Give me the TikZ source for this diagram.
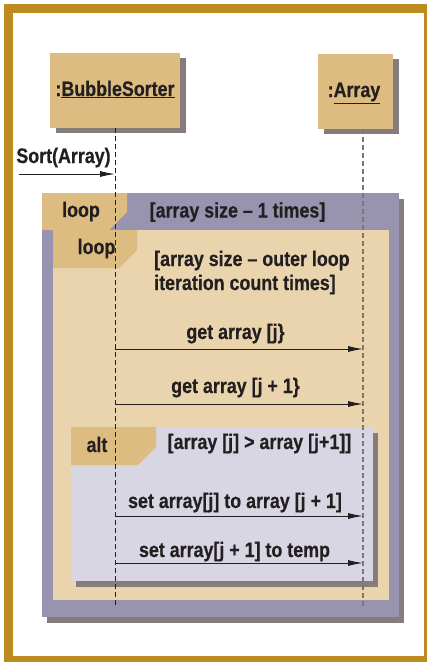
\documentclass[tikz,border=0pt]{standalone}
\usepackage{fontspec}
\setmainfont{Liberation Sans}[FakeStretch=0.85, BoldFeatures={FakeBold=0.5}]
\usetikzlibrary{arrows.meta,shadows}
\definecolor{gold}{HTML}{BD8B1F}
\definecolor{tandark}{HTML}{DDBC82}
\definecolor{tanlight}{HTML}{E9D4AE}
\definecolor{purp}{HTML}{9893AF}
\definecolor{lav}{HTML}{D8D6E3}
\definecolor{shadowc}{HTML}{857D7A}
\definecolor{ink}{HTML}{231F20}
\definecolor{lifegray}{HTML}{7E7673}
\begin{document}
\begin{tikzpicture}[x=1pt,y=-1pt,
  font=\fontsize{21}{24}\selectfont\bfseries,
  txt/.style={text=ink, inner sep=0pt, anchor=base},
  objbox/.style={fill=tandark, inner sep=0pt, outer sep=0pt, drop shadow={shadow xshift=6pt, shadow yshift=-5pt, fill=shadowc, opacity=1}},
  framebox/.style={inner sep=0pt, outer sep=0pt},
  msg/.style={draw=ink, line width=0.9pt, -{Latex[length=15pt,width=6pt]}},
  lifeline/.style={line width=1pt, dash pattern=on 5pt off 3pt}]
\clip (0,0) rectangle (427,662);
\fill[white] (0,0) rectangle (427,662);
\draw[gold, line width=9pt] (8.5,8.5) rectangle (428.5,660.5);

% object boxes
\node[objbox, minimum width=130pt, minimum height=75pt] (bs) at (115,90.5) {};
\node[objbox, minimum width=75pt, minimum height=75pt] (ar) at (355.5,91.5) {};
\node[txt] (bst) at (115,96) {:\underline{BubbleSorter}};
\node[txt] (art) at (354,97) {:\underline{Array}};

% outer loop frame
\node[framebox, fill=purp, minimum width=357pt, minimum height=424pt,
  drop shadow={shadow xshift=5pt, shadow yshift=-6pt, fill=shadowc, opacity=1}] (loopA) at (220.5,405) {};
\fill[tandark] (42,193) -- (127,193) -- (127,212) -- (109,230) -- (42,230) -- cycle;
% inner loop frame
\node[framebox, fill=tanlight, minimum width=336pt, minimum height=370pt] (loopB) at (221,415) {};
\fill[tandark] (53,230) -- (137,230) -- (137,250) -- (119,268) -- (53,268) -- cycle;
% alt frame
\node[framebox, fill=lav, minimum width=302pt, minimum height=154pt,
  drop shadow={shadow xshift=5pt, shadow yshift=-6pt, fill=shadowc, opacity=1}] (altF) at (222,504) {};
\fill[tandark] (71,427) -- (156,427) -- (156,447) -- (138,465) -- (71,465) -- cycle;

% texts
\node[txt] (sortt) at (63.5,163) {Sort(Array)};
\node[txt] (loopAt) at (81,217) {loop};
\node[txt] (loopAg) at (237.5,217.5) {[array size – 1 times]};
\node[txt] (loopBt) at (96.5,254) {loop};
\node[txt, anchor=base west] (loopBg1) at (154,266) {[array size – outer loop};
\node[txt, anchor=base west] (loopBg2) at (154,290) {iteration count times]};
\node[txt] (m1t) at (235.5,339) {get array [j\}};
\node[txt] (m2t) at (235.5,393) {get array [j + 1\}};
\node[txt] (altt) at (97,452) {alt};
\node[txt] (altg) at (259.5,449) {[array [j] > array [j+1]]};
\node[txt] (m3t) at (235,508) {set array[j] to array [j + 1]};
\node[txt] (m4t) at (234.5,557) {set array[j + 1] to temp};

% lifelines
\coordinate (bsEnd) at (115,607);
\coordinate (arTop) at (363,129);
\coordinate (arEnd) at (363,607);
\draw[lifeline, ink] (bs.south) -- (bsEnd);
\draw[lifeline, lifegray, line width=1.2pt] (arTop) -- (arEnd);

% messages
\coordinate (s0) at (19,174);
\coordinate (e0) at (115,174);
\draw[msg] (s0) -- (e0);
\coordinate (s1) at (115,349);
\coordinate (e1) at (363,349);
\draw[msg] (s1) -- (e1);
\coordinate (s2) at (115,404);
\coordinate (e2) at (363,404);
\draw[msg] (s2) -- (e2);
\coordinate (s3) at (115,516);
\coordinate (e3) at (363,516);
\draw[msg] (s3) -- (e3);
\coordinate (s4) at (115,563);
\coordinate (e4) at (363,563);
\draw[msg] (s4) -- (e4);
\end{tikzpicture}
\end{document}
